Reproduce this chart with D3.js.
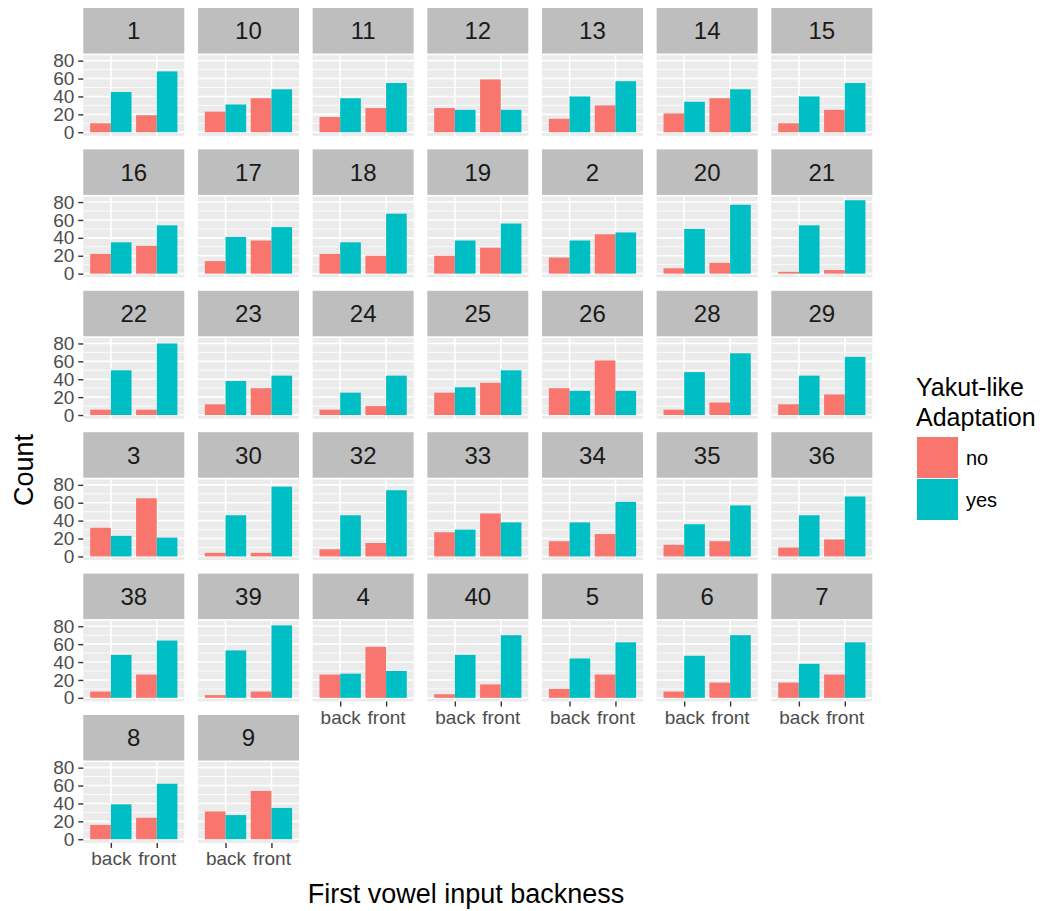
<!DOCTYPE html>
<html>
<head>
<meta charset="utf-8">
<script src="https://cdn.jsdelivr.net/npm/d3@7/dist/d3.min.js"></script>
<style>
  body { margin: 0; background: #fff; }
  svg { font-family: "Liberation Sans", Arial, Helvetica, sans-serif; }
</style>
</head>
<body>
<svg id="chart"></svg>
<script>
// facet labels, in the order ggplot laid them out (alphabetical)
const panelIds = ["1","10","11","12","13","14","15",
                  "16","17","18","19","2","20","21",
                  "22","23","24","25","26","28","29",
                  "3","30","32","33","34","35","36",
                  "38","39","4","40","5","6","7",
                  "8","9"];
// counts
const backNo   = [10,23,17,27,15,21,10, 22,14,22,20,18, 6, 2,  6,12, 6,25,30, 6,12, 32, 4, 8,27,17,13,10,  7, 3,26, 4,10, 7,17, 16,31];
const backYes  = [45,31,38,25,40,34,40, 35,41,35,37,37,50,54, 50,38,25,31,27,48,44, 23,46,46,30,38,36,46, 48,53,27,48,44,47,38, 39,27];
const frontNo  = [19,38,27,59,30,38,25, 31,37,20,29,44,12, 4,  6,30,10,36,61,14,23, 65, 4,15,48,25,17,19, 26, 7,57,15,26,17,26, 24,54];
const frontYes = [68,48,55,25,57,48,55, 54,52,67,56,46,77,82, 80,44,44,50,27,69,65, 21,78,74,38,61,57,67, 64,81,30,70,62,70,62, 62,35];

const backness = ["back", "front"];
const adaptation = ["no", "yes"];
const yTicks = [0, 20, 40, 60, 80];
const yMinor = [10, 30, 50, 70];

const width = 1053, height = 911;
const nCols = 7;
const colX0 = 83.3, colStep = 114.67, panelW = 101;
const rowY0 = 8, rowStep = 141.4, stripH = 45.5, stripGap = 1.7, panelH = 80.7;

const fill = d3.scaleOrdinal().domain(adaptation).range(["#F8766D", "#00BFC4"]);

const svg = d3.select('#chart')
    .attr('width', width)
    .attr('height', height);

// one row per panel
const panels = panelIds.map((id, i) => ({
    id: id,
    col: i % nCols,
    row: Math.floor(i / nCols),
    bars: [
        {x: "back",  g: "no",  v: backNo[i]},
        {x: "back",  g: "yes", v: backYes[i]},
        {x: "front", g: "no",  v: frontNo[i]},
        {x: "front", g: "yes", v: frontYes[i]}
    ]
}));
const nRows = d3.max(panels, d => d.row) + 1;

// shared scales (ggplot expand: 5% on y, 0.6 on discrete x)
const yMax = d3.max([backNo, backYes, frontNo, frontYes].flat());
const y = d3.scaleLinear()
    .domain([-0.05 * yMax, yMax * 1.05])
    .range([panelH, 0]);
const x = d3.scalePoint().domain(backness).range([0, panelW]).padding(0.6);
const step = x.step();
const dodge = d3.scaleBand().domain(adaptation).range([-0.45 * step, 0.45 * step]);

const panel = svg.selectAll('g.panel')
    .data(panels)
    .join('g')
    .attr('class', 'panel')
    .attr('transform', d => 'translate(' + (colX0 + d.col * colStep) + ',' + (rowY0 + d.row * rowStep) + ')');

// strip
panel.append('rect')
    .attr('width', panelW).attr('height', stripH)
    .attr('fill', '#bebebe');
panel.append('text')
    .attr('x', panelW / 2).attr('y', stripH / 2)
    .attr('dy', '0.36em')
    .attr('text-anchor', 'middle')
    .attr('font-size', 24)
    .attr('fill', '#1a1a1a')
    .text(d => d.id);

// plotting area
const body = panel.append('g')
    .attr('transform', 'translate(0,' + (stripH + stripGap) + ')');
body.append('rect')
    .attr('width', panelW).attr('height', panelH)
    .attr('fill', '#ebebeb');
body.selectAll('line.minor')
    .data(yMinor).join('line')
    .attr('x1', 0).attr('x2', panelW)
    .attr('y1', d => y(d)).attr('y2', d => y(d))
    .attr('stroke', '#fff').attr('stroke-width', 0.8);
body.selectAll('line.hmajor')
    .data(yTicks).join('line')
    .attr('x1', 0).attr('x2', panelW)
    .attr('y1', d => y(d)).attr('y2', d => y(d))
    .attr('stroke', '#fff').attr('stroke-width', 1.6);
body.selectAll('line.vmajor')
    .data(backness).join('line')
    .attr('y1', 0).attr('y2', panelH)
    .attr('x1', d => x(d)).attr('x2', d => x(d))
    .attr('stroke', '#fff').attr('stroke-width', 1.6);

// bars
body.selectAll('rect.bar')
    .data(d => d.bars).join('rect')
    .attr('class', 'bar')
    .attr('x', d => x(d.x) + dodge(d.g))
    .attr('width', dodge.bandwidth())
    .attr('y', d => y(d.v))
    .attr('height', d => y(0) - y(d.v))
    .attr('fill', d => fill(d.g));

// y axis on the first column
body.filter(d => d.col === 0).append('g')
    .call(d3.axisLeft(y).tickValues(yTicks).tickSize(5).tickPadding(4))
    .call(g => g.select('.domain').remove())
    .call(g => g.selectAll('line').attr('stroke', '#333').attr('stroke-width', 1.4))
    .call(g => g.selectAll('text').attr('fill', '#4d4d4d').attr('font-size', 19)
        .attr('font-family', null));

// x axis under panels with nothing below
const lastRowCount = panels.length - (nRows - 1) * nCols;
body.filter(d => d.row === nRows - 1 || (d.row === nRows - 2 && d.col >= lastRowCount))
    .append('g')
    .attr('transform', 'translate(0,' + panelH + ')')
    .call(d3.axisBottom(x).tickSize(5).tickPadding(4))
    .call(g => g.select('.domain').remove())
    .call(g => g.selectAll('line').attr('stroke', '#333').attr('stroke-width', 1.4))
    .call(g => g.selectAll('text').attr('fill', '#4d4d4d').attr('font-size', 19)
        .attr('font-family', null));

// axis titles
svg.append('text')
    .attr('x', 466).attr('y', 903)
    .attr('text-anchor', 'middle')
    .attr('font-size', 27)
    .attr('fill', '#000')
    .text('First vowel input backness');
svg.append('text')
    .attr('transform', 'translate(33,470) rotate(-90)')
    .attr('text-anchor', 'middle')
    .attr('font-size', 27)
    .attr('fill', '#000')
    .text('Count');

// legend
const legend = svg.append('g').attr('transform', 'translate(916,0)');
legend.append('text').attr('y', 396).attr('font-size', 25).text('Yakut-like');
legend.append('text').attr('y', 426).attr('font-size', 25).text('Adaptation');
const key = legend.selectAll('g.key')
    .data(adaptation).join('g')
    .attr('class', 'key')
    .attr('transform', (d, i) => 'translate(1,' + (437 + i * 42) + ')');
key.append('rect')
    .attr('width', 41).attr('height', 41)
    .attr('fill', d => fill(d));
key.append('text')
    .attr('x', 49).attr('y', 20.5).attr('dy', '0.36em')
    .attr('font-size', 20)
    .text(d => d);
</script>
</body>
</html>
